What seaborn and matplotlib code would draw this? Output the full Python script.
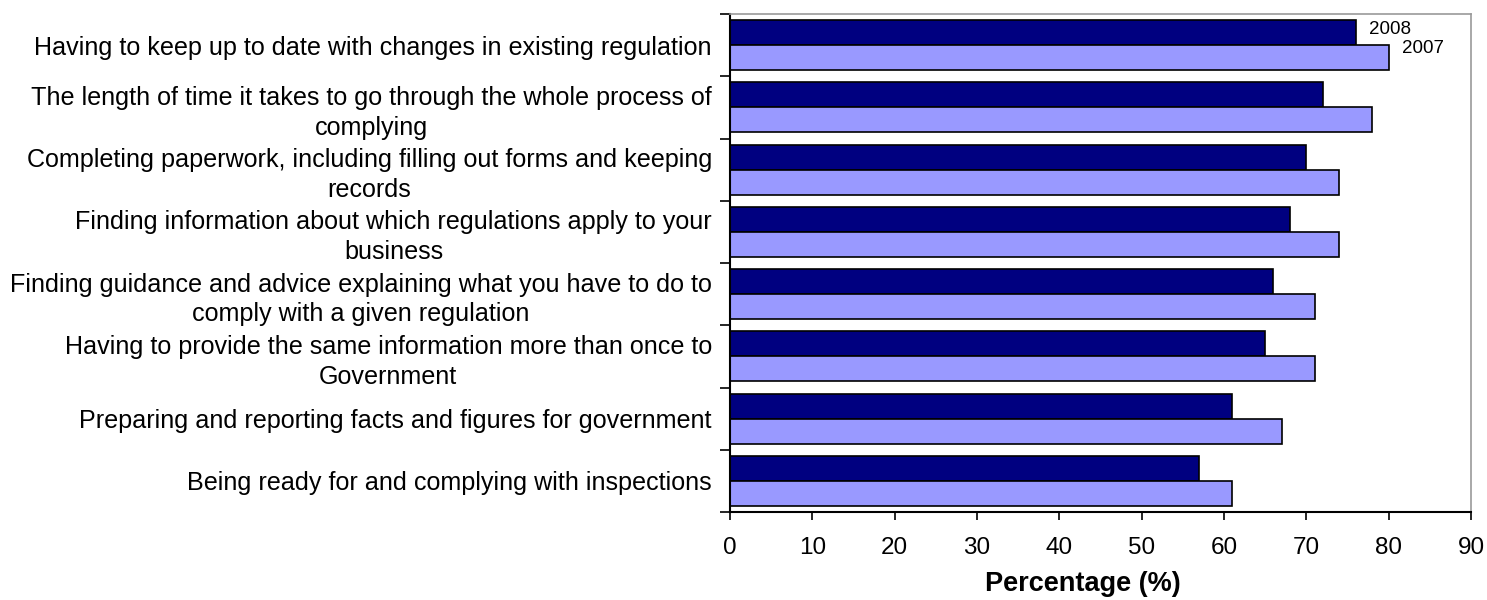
import matplotlib
matplotlib.use("Agg")
import matplotlib.pyplot as plt
import seaborn as sns
import pandas as pd
import numpy as np
from matplotlib.ticker import FixedLocator

categories = [
    "Having to keep up to date with changes in existing regulation",
    "The length of time it takes to go through the whole process of\ncomplying",
    "Completing paperwork, including filling out forms and keeping\nrecords",
    "Finding information about which regulations apply to your\nbusiness",
    "Finding guidance and advice explaining what you have to do to\ncomply with a given regulation",
    "Having to provide the same information more than once to\nGovernment",
    "Preparing and reporting facts and figures for government",
    "Being ready for and complying with inspections",
]
values_2008 = [76, 72, 70, 68, 66, 65, 61, 57]
values_2007 = [80, 78, 74, 74, 71, 71, 67, 61]
series = ["2008", "2007"]
x_ticks = [0, 10, 20, 30, 40, 50, 60, 70, 80, 90]

df = pd.DataFrame({
    "category": categories * 2,
    "value": values_2008 + values_2007,
    "year": [series[0]] * len(categories) + [series[1]] * len(categories),
})

sns.set_theme(style="white")
plt.rcParams["font.family"] = ["Liberation Sans", "DejaVu Sans"]
plt.rcParams["text.color"] = "black"
plt.rcParams["xtick.color"] = "black"
plt.rcParams["ytick.color"] = "black"
plt.rcParams["axes.labelcolor"] = "black"

fig = plt.figure(figsize=(14.87, 6.0), dpi=100)
ax = fig.add_axes([730 / 1487, 1 - 512 / 600, (1471 - 730) / 1487, (512 - 14) / 600])

sns.barplot(data=df, x="value", y="category", hue="year", hue_order=series,
            order=categories, orient="h", palette={"2008": "#000080", "2007": "#9999FF"},
            saturation=1, edgecolor="black", linewidth=1.2, width=0.8, ax=ax, legend=False)

ax.set_xlim(0, 90)
ax.set_ylim(len(categories) - 0.5, -0.5)
ax.xaxis.set_major_locator(FixedLocator(x_ticks))
ax.set_xticklabels([str(t) for t in x_ticks], fontsize=17.5)
ax.tick_params(axis="x", which="major", direction="out", length=6, width=1.2,
               color="black", bottom=True, pad=12)

# category labels at centres, ticks at band boundaries
ax.yaxis.set_major_locator(FixedLocator(list(range(len(categories)))))
ax.set_yticklabels(categories, fontsize=18.1)
for lab in ax.get_yticklabels():
    lab.set_multialignment("center")
    lab.set_linespacing(1.3)
ax.tick_params(axis="y", which="major", length=0, pad=13)
ax.yaxis.set_minor_locator(FixedLocator(list(np.arange(-0.5, len(categories), 1.0))))
ax.tick_params(axis="y", which="minor", direction="out", length=7, width=1.2,
               color="black", left=True)

ax.set_xlabel("Percentage (%)", fontsize=19.5, fontweight="bold")
ax.xaxis.set_label_coords((1083 - 730) / 741, -0.145)
ax.xaxis.label.set_va("center")
ax.set_ylabel("")

for side in ["left", "bottom"]:
    ax.spines[side].set_color("black")
    ax.spines[side].set_linewidth(1.5)
for side in ["top", "right"]:
    ax.spines[side].set_color("#999999")
    ax.spines[side].set_linewidth(1.2)

# series labels beside the first pair of bars
ax.text(values_2008[0] + 1.6, -0.25, series[0], fontsize=13.5, va="center", ha="left")
ax.text(values_2007[0] + 1.6, 0.05, series[1], fontsize=13.5, va="center", ha="left")

fig.savefig("out.png", dpi=100)
